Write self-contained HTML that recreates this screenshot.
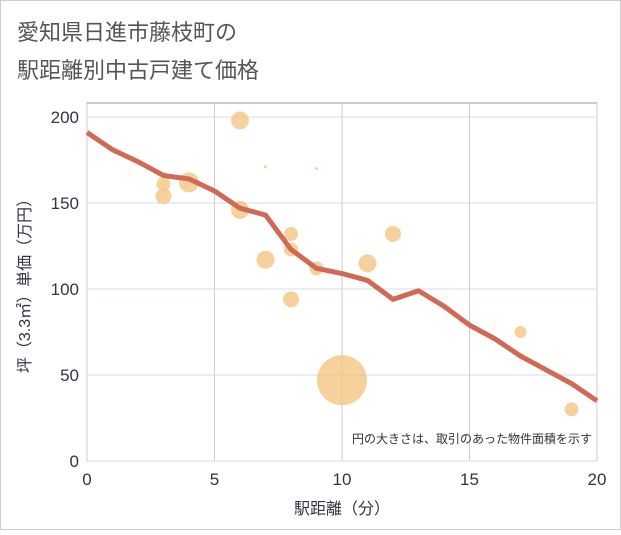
<!DOCTYPE html>
<html><head><meta charset="utf-8"><style>
body{margin:0;background:#fff;font-family:"Liberation Sans","Noto Sans CJK JP",sans-serif;}
</style></head><body>
<svg id="c" width="621" height="530" xmlns="http://www.w3.org/2000/svg">
<rect x="0.5" y="0.5" width="620" height="529" fill="#fff" stroke="#ccc"/>
<text x="17" y="40" font-size="22" fill="#555">愛知県日進市藤枝町の</text>
<text x="17" y="78" font-size="22" fill="#555">駅距離別中古戸建て価格</text>
<rect x="87" y="103" width="510" height="358" fill="#fff" stroke="#8f9aa6"/>
<g id="grid"></g>
<g id="bubbles"></g>
<g id="line"></g>
<g id="axes"></g>
<text x="592" y="443" font-size="12" fill="#333" text-anchor="end">円の大きさは、取引のあった物件面積を示す</text>
<text x="342" y="514" font-size="16" fill="#334" text-anchor="middle">駅距離（分）</text>
<text transform="translate(30,282) rotate(-90)" font-size="16" fill="#334" text-anchor="middle">坪（3.3㎡）単価（万円）</text>
</svg>
<script>
const xTicks=[0,5,10,15,20];
const yTicks=[0,50,100,150,200];
const lineX=[0,1,2,3,4,5,6,7,8,9,10,11,12,13,14,15,16,17,18,19,20];
const lineY=[191,181,174,166,164,157,147,143,123,112,109,105,94,99,90,79,71,61,53,45,35];
const bubX=[6,7,9,3,3,4,6,8,8,7,9,11,12,8,10,17,19];
const bubY=[198,171,170,161,154,162,146,132,123,117,112,115,132,94,47,75,30];
const bubR=[9,1.5,1.5,7,8,10,9,7,7,9,7,9,8,8,25,6,7];
const NS='http://www.w3.org/2000/svg';
const sx=v=>87+v*25.5, sy=v=>461-v*1.72;
function mk(t,a,p){const e=document.createElementNS(NS,t);for(const k in a)e.setAttribute(k,a[k]);p.appendChild(e);return e;}
const g=document.getElementById('grid'),ax=document.getElementById('axes');
xTicks.forEach(t=>{
 const l=mk('line',{x1:sx(t),x2:sx(t),y1:103,y2:461,stroke:'#c5ced8','stroke-width':1},g);
 
 
 const tx=mk('text',{x:sx(t),y:485,'font-size':17,fill:'#334','text-anchor':'middle'},ax);tx.textContent=t;
 
 
});
yTicks.forEach(t=>{
 const l=mk('line',{x1:87,x2:597,y1:sy(t),y2:sy(t),stroke:'#d3dde8','stroke-width':1},g);
 
 
 const tx=mk('text',{x:79,y:sy(t)+6,'font-size':17,fill:'#334','text-anchor':'end'},ax);tx.textContent=t;
 
 
});
const b=document.getElementById('bubbles');
bubX.forEach((x,i)=>{
 const c=mk('circle',{cx:sx(x),cy:sy(bubY[i]),r:bubR[i],fill:'#f3c27a','fill-opacity':0.75},b);
 
 
});
const p=mk('polyline',{points:lineX.map((x,i)=>sx(x)+','+sy(lineY[i])).join(' '),fill:'none',stroke:'#d06a55','stroke-width':5,'stroke-linejoin':'round'},document.getElementById('line'));


</script>
</body></html>
